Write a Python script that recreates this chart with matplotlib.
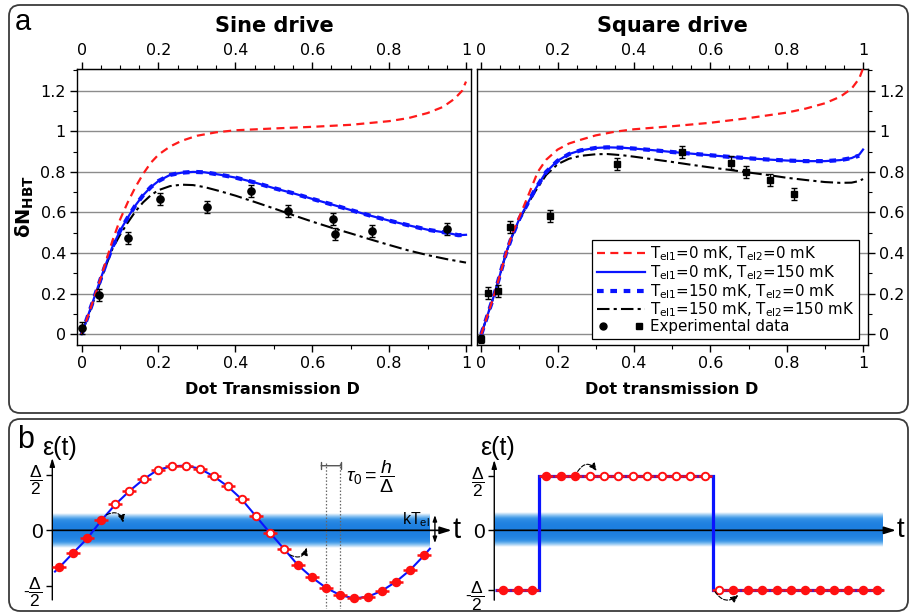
import numpy as np
import matplotlib
matplotlib.use("Agg")
import matplotlib.pyplot as plt
from matplotlib.ticker import MultipleLocator
from matplotlib.patches import FancyBboxPatch
from matplotlib.lines import Line2D
from matplotlib.legend_handler import HandlerTuple
from matplotlib.colors import LinearSegmentedColormap

plt.rcParams['font.family'] = ['DejaVu Sans']
plt.rcParams['mathtext.fontset'] = 'dejavusans'
plt.rcParams['mathtext.rm'] = 'Liberation Sans'
plt.rcParams['mathtext.it'] = 'Liberation Sans:italic'
plt.rcParams['mathtext.bf'] = 'Liberation Sans:bold'

# ---------------- data : panel a ----------------
x_ticks = [0, 0.2, 0.4, 0.6, 0.8, 1.0]
x_ticklabels = ['0', '0.2', '0.4', '0.6', '0.8', '1']
y_ticks = [0, 0.2, 0.4, 0.6, 0.8, 1.0, 1.2]
y_ticklabels = ['0', '0.2', '0.4', '0.6', '0.8', '1', '1.2']

# Sine drive
sine_red_x = [0, 0.02, 0.04, 0.06, 0.08, 0.1, 0.12, 0.14, 0.16, 0.18, 0.2, 0.23, 0.26, 0.3, 0.35, 0.4,
              0.5, 0.6, 0.7, 0.8, 0.85, 0.9, 0.94, 0.97, 0.99, 1.0]
sine_red_y = [0, 0.11, 0.22, 0.34, 0.46, 0.565, 0.65, 0.725, 0.79, 0.845, 0.885, 0.925, 0.953, 0.978,
              0.995, 1.005, 1.014, 1.022, 1.032, 1.05, 1.065, 1.09, 1.12, 1.16, 1.2, 1.245]
sine_blue_x = [0, 0.02, 0.04, 0.06, 0.08, 0.1, 0.12, 0.14, 0.16, 0.18, 0.2, 0.23, 0.26, 0.29, 0.32,
               0.36, 0.4, 0.45, 0.5, 0.55, 0.6, 0.65, 0.7, 0.75, 0.8, 0.85, 0.9, 0.95, 0.98, 1.0]
sine_blue_y = [0, 0.11, 0.22, 0.33, 0.43, 0.51, 0.575, 0.635, 0.685, 0.725, 0.755, 0.785, 0.796, 0.8,
               0.798, 0.786, 0.772, 0.748, 0.72, 0.695, 0.667, 0.64, 0.612, 0.585, 0.56, 0.537, 0.515,
               0.5, 0.488, 0.49]
sine_bluedash_x = [0, 0.02, 0.04, 0.06, 0.08, 0.1, 0.12, 0.14, 0.16, 0.18, 0.2, 0.23, 0.26, 0.29, 0.32,
                   0.36, 0.4, 0.45, 0.5, 0.55, 0.6, 0.65, 0.7, 0.75, 0.8, 0.85, 0.9, 0.95, 0.98, 1.0]
sine_bluedash_y = [0, 0.11, 0.22, 0.33, 0.43, 0.51, 0.575, 0.635, 0.685, 0.725, 0.755, 0.785, 0.796, 0.8,
                   0.798, 0.786, 0.772, 0.748, 0.72, 0.695, 0.667, 0.64, 0.612, 0.585, 0.56, 0.537, 0.515,
                   0.5, 0.488, 0.49]
sine_black_x = [0, 0.02, 0.04, 0.06, 0.08, 0.1, 0.12, 0.14, 0.16, 0.18, 0.2, 0.23, 0.26, 0.29, 0.32,
                0.36, 0.4, 0.45, 0.5, 0.55, 0.6, 0.65, 0.7, 0.75, 0.8, 0.85, 0.9, 0.95, 1.0]
sine_black_y = [0, 0.105, 0.21, 0.32, 0.42, 0.49, 0.55, 0.605, 0.65, 0.685, 0.71, 0.73, 0.737, 0.735,
                0.725, 0.705, 0.683, 0.652, 0.62, 0.587, 0.555, 0.525, 0.497, 0.468, 0.44, 0.413, 0.39,
                0.37, 0.353]
sine_exp_x = [0.0, 0.045, 0.12, 0.203, 0.325, 0.44, 0.537, 0.653, 0.659, 0.755, 0.95]
sine_exp_y = [0.03, 0.195, 0.476, 0.668, 0.628, 0.706, 0.607, 0.568, 0.494, 0.509, 0.519]
sine_exp_err = [0.03, 0.03, 0.03, 0.03, 0.03, 0.03, 0.03, 0.03, 0.03, 0.03, 0.03]

# Square drive
sq_red_x = [0, 0.02, 0.035, 0.05, 0.065, 0.08, 0.1, 0.12, 0.148, 0.17, 0.2, 0.23, 0.26, 0.3, 0.35, 0.4,
            0.5, 0.6, 0.7, 0.8, 0.85, 0.9, 0.94, 0.97, 0.99, 1.0]
sq_red_y = [0, 0.115, 0.2, 0.3, 0.4, 0.49, 0.58, 0.67, 0.8, 0.86, 0.91, 0.94, 0.958, 0.98, 0.998, 1.01,
            1.025, 1.042, 1.065, 1.092, 1.112, 1.138, 1.17, 1.21, 1.26, 1.31]
sq_blue_x = [0, 0.02, 0.035, 0.05, 0.065, 0.08, 0.1, 0.12, 0.14, 0.17, 0.2, 0.23, 0.26, 0.3, 0.33, 0.37,
             0.4, 0.45, 0.5, 0.55, 0.6, 0.65, 0.7, 0.75, 0.8, 0.85, 0.9, 0.94, 0.97, 0.99, 1.0]
sq_blue_y = [0, 0.115, 0.2, 0.3, 0.4, 0.48, 0.57, 0.64, 0.71, 0.8, 0.855, 0.888, 0.906, 0.918, 0.921,
             0.919, 0.915, 0.907, 0.898, 0.89, 0.882, 0.874, 0.867, 0.861, 0.856, 0.853, 0.853, 0.858,
             0.868, 0.885, 0.91]
sq_bluedash_x = [0, 0.02, 0.035, 0.05, 0.065, 0.08, 0.1, 0.12, 0.14, 0.17, 0.2, 0.23, 0.26, 0.3, 0.33, 0.37,
                 0.4, 0.45, 0.5, 0.55, 0.6, 0.65, 0.7, 0.75, 0.8, 0.85, 0.9, 0.94, 0.97, 0.99]
sq_bluedash_y = [0, 0.115, 0.2, 0.3, 0.4, 0.48, 0.57, 0.64, 0.71, 0.8, 0.855, 0.888, 0.906, 0.918, 0.921,
                 0.919, 0.915, 0.907, 0.898, 0.89, 0.882, 0.874, 0.867, 0.861, 0.856, 0.853, 0.853, 0.858,
                 0.868, 0.88]
sq_black_x = [0, 0.02, 0.035, 0.05, 0.065, 0.08, 0.1, 0.12, 0.14, 0.17, 0.2, 0.23, 0.26, 0.3, 0.33, 0.37,
              0.4, 0.45, 0.5, 0.55, 0.6, 0.65, 0.7, 0.75, 0.8, 0.85, 0.9, 0.94, 0.97, 0.99, 1.0]
sq_black_y = [0, 0.115, 0.2, 0.3, 0.4, 0.48, 0.565, 0.635, 0.7, 0.785, 0.838, 0.865, 0.879, 0.887, 0.888,
              0.882, 0.875, 0.862, 0.849, 0.835, 0.822, 0.81, 0.797, 0.785, 0.771, 0.76, 0.75, 0.746,
              0.747, 0.755, 0.765]
sq_exp_x = [0.0, 0.017, 0.045, 0.076, 0.181, 0.355, 0.525, 0.655, 0.694, 0.755, 0.818]
sq_exp_y = [-0.023, 0.205, 0.213, 0.53, 0.584, 0.837, 0.9, 0.846, 0.801, 0.76, 0.691]
sq_exp_err = [0.02, 0.03, 0.03, 0.03, 0.03, 0.03, 0.03, 0.03, 0.03, 0.03, 0.03]

legend_labels = [r'T$_{\mathrm{el1}}$=0 mK, T$_{\mathrm{el2}}$=0 mK',
                 r'T$_{\mathrm{el1}}$=0 mK, T$_{\mathrm{el2}}$=150 mK',
                 r'T$_{\mathrm{el1}}$=150 mK, T$_{\mathrm{el2}}$=0 mK',
                 r'T$_{\mathrm{el1}}$=150 mK, T$_{\mathrm{el2}}$=150 mK',
                 'Experimental data']

# ---------------- data : panel b ----------------
sine_k = list(range(27))
sine_eps = [-0.665, -0.401, -0.144, 0.18, 0.467, 0.707, 0.916, 1.084, 1.150, 1.162, 1.108, 0.970,
            0.790, 0.557, 0.257, -0.042, -0.329, -0.623, -0.844, -1.030, -1.162, -1.222, -1.192,
            -1.084, -0.922, -0.713, -0.449]
sine_filled = [1, 1, 1, 1, 0, 0, 0, 0, 0, 0, 0, 0, 0, 0, 0, 0, 0, 1, 1, 1, 1, 1, 1, 1, 1, 1, 1]
sine_curve_k = [-0.31] + sine_k + [26.41]
sine_curve_eps = [-0.74] + sine_eps + [-0.33]
sine_levels = [-1.0, 0.0, 1.0]

sq_k = list(range(27))
sq_eps = [-1.09, -1.09, -1.09, 0.98, 0.98, 0.98, 0.98, 0.98, 0.98, 0.98, 0.98, 0.98, 0.98, 0.98,
          0.98, -1.09, -1.09, -1.09, -1.09, -1.09, -1.09, -1.09, -1.09, -1.09, -1.09, -1.09, -1.09]
sq_filled = [1, 1, 1, 1, 1, 1, 0, 0, 0, 0, 0, 0, 0, 0, 0, 0, 1, 1, 1, 1, 1, 1, 1, 1, 1, 1, 1]
sq_wave_edges = [-0.58, 2.5, 14.6, 26.4]
sq_wave_levels = [-1.09, 0.98, -1.09]
sq_levels = [-1.09, 0.0, 0.98]
level_labels = [r'-$\dfrac{\Delta}{2}$', '0', r'$\dfrac{\Delta}{2}$']

# ---------------- figure ----------------
W, H = 910, 612
fig = plt.figure(figsize=(W / 100, H / 100), dpi=100)


def px_axes(x0, y0, x1, y1):
    return fig.add_axes([x0 / W, 1 - y1 / H, (x1 - x0) / W, (y1 - y0) / H])


# panel frames
for (x0, y0, x1, y1) in [(9, 5, 908, 413), (9, 419, 908, 611)]:
    fig.add_artist(FancyBboxPatch((x0 / 100, (H - y1) / 100), (x1 - x0) / 100, (y1 - y0) / 100,
                                  boxstyle='round,pad=0,rounding_size=0.11',
                                  transform=fig.dpi_scale_trans, fill=False,
                                  ec='#3a3a3a', lw=1.3))

axL = px_axes(77, 69, 471, 345)
axR = px_axes(476.7, 69, 868, 345)

red_style = dict(color='#ff1a1a', lw=1.6, ls=(0, (3.6, 2.4)), zorder=6)
blue_style = dict(color='#0a14ff', lw=1.6, ls='-', zorder=4)
bluedash_style = dict(color='#0a14ff', lw=3.0, ls=(0, (1.6, 1.6)), zorder=5)
black_style = dict(color='black', lw=1.5, ls=(0, (6, 2, 1.5, 2)), zorder=3)

for ax, data, exp_marker in [
        (axL, (sine_red_x, sine_red_y, sine_blue_x, sine_blue_y, sine_bluedash_x, sine_bluedash_y,
               sine_black_x, sine_black_y, sine_exp_x, sine_exp_y, sine_exp_err), 'o'),
        (axR, (sq_red_x, sq_red_y, sq_blue_x, sq_blue_y, sq_bluedash_x, sq_bluedash_y,
               sq_black_x, sq_black_y, sq_exp_x, sq_exp_y, sq_exp_err), 's')]:
    (rx, ry, bx, by, bdx, bdy, kx, ky, ex, ey, ee) = data
    ax.plot(kx, ky, **black_style)
    ax.plot(bx, by, **blue_style)
    ax.plot(bdx, bdy, **bluedash_style)
    ax.plot(rx, ry, **red_style)
    ax.errorbar(ex, ey, yerr=ee, fmt=exp_marker, color='black', ms=5.2 if exp_marker == 'o' else 4.8,
                elinewidth=1.0, capsize=2, capthick=1.0, zorder=7)
    ax.set_xlim(-0.012, 1.013)
    ax.set_ylim(-0.053, 1.307)
    ax.set_xticks(x_ticks, labels=x_ticklabels)
    ax.xaxis.set_minor_locator(MultipleLocator(0.1))
    ax.set_yticks(y_ticks, labels=y_ticklabels)
    ax.yaxis.set_minor_locator(MultipleLocator(0.1))
    ax.tick_params(axis='both', which='major', length=5, width=1, labelsize=11.5, direction='out', pad=3)
    ax.tick_params(axis='both', which='minor', length=3, width=0.8, direction='out')
    ax.tick_params(axis='x', top=False, which='both')
    ax.grid(axis='y', which='major', color='#8c8c8c', lw=1.0)
    ax.set_axisbelow(True)
    for s in ax.spines.values():
        s.set_linewidth(1.0)
    sec = ax.secondary_xaxis('top')
    sec.set_xticks(x_ticks, labels=x_ticklabels)
    sec.xaxis.set_minor_locator(MultipleLocator(0.05))
    sec.tick_params(axis='x', which='major', length=5, width=1, labelsize=11.5, direction='out', pad=3)
    sec.tick_params(axis='x', which='minor', length=3, width=0.8, direction='out')

axR.yaxis.tick_right()
axR.tick_params(axis='y', which='both', left=False, labelleft=False, right=True, labelright=True)

# titles and labels
fig.text(274 / W, 1 - 26 / H, 'Sine drive', fontsize=15, fontweight='bold', ha='center', va='center')
fig.text(672 / W, 1 - 26 / H, 'Square drive', fontsize=15, fontweight='bold', ha='center', va='center')
fig.text(272 / W, 1 - 389 / H, 'Dot Transmission D', fontsize=11.5, fontweight='bold', ha='center', va='center')
fig.text(672 / W, 1 - 389 / H, 'Dot transmission D', fontsize=11.5, fontweight='bold', ha='center', va='center')
fig.text(25 / W, 1 - 207 / H, r'δN$_{\mathbf{HBT}}$', fontsize=14, fontweight='bold', rotation=90,
         ha='center', va='center', math_fontfamily='dejavusans')
fig.text(23 / W, 1 - 22 / H, 'a', fontsize=21, family='Liberation Sans', ha='center', va='center')
fig.text(26 / W, 1 - 440 / H, 'b', fontsize=22, family='Liberation Sans', ha='center', va='center')

# legend
h_red = Line2D([], [], **red_style)
h_blue = Line2D([], [], **blue_style)
h_bdash = Line2D([], [], **bluedash_style)
h_black = Line2D([], [], **black_style)
h_circ = Line2D([], [], ls='none', marker='o', color='black', ms=5)
h_sq = Line2D([], [], ls='none', marker='s', color='black', ms=5)
leg = axR.legend([h_red, h_blue, h_bdash, h_black, (h_circ, h_sq)], legend_labels,
                 handler_map={tuple: HandlerTuple(ndivide=None, pad=1.5)},
                 loc='lower right', bbox_to_anchor=(0.977, 0.022), borderaxespad=0,
                 fontsize=10.8, fancybox=False, framealpha=1, edgecolor='black',
                 handlelength=3.2, handletextpad=0.35, labelspacing=0.0, borderpad=0.3)
leg.get_frame().set_linewidth(0.9)
leg.set_zorder(10)

# ---------------- panel b ----------------
band_cmap = LinearSegmentedColormap.from_list('band', ['#ffffff', '#c4e0f8', '#7dbcef', '#3592e6', '#1d7fe0'])
u = np.linspace(-1, 1, 101)
band = (1 - np.abs(u) ** 3.0)[:, None]


def set_map(ax, x0, x1, y0, y1, xo, xs, yo, ys):
    ax.set_xlim((x0 - xo) / xs, (x1 - xo) / xs)
    ax.set_ylim((yo - y1) / ys, (yo - y0) / ys)


def schematic_axes(ax, k_axis, levels, y_bot, y_top, k_end, band_k0, band_k1):
    ax.patch.set_visible(False)
    for s in ax.spines.values():
        s.set_visible(False)
    ax.spines['left'].set_position(('data', k_axis))
    ax.set_xticks([])
    ax.set_yticks(levels, labels=level_labels)
    ax.tick_params(axis='y', length=4, width=1, pad=3, direction='out')
    for i, lbl in enumerate(ax.get_yticklabels()):
        lbl.set_fontfamily('Liberation Sans')
        lbl.set_math_fontfamily('custom')
        lbl.set_fontsize(15 if i == 1 else 12.5)
    ax.imshow(band, extent=(band_k0, band_k1, -0.31, 0.31), aspect='auto', cmap=band_cmap,
              vmin=0, vmax=1, origin='lower', zorder=1, interpolation='bilinear')
    ax.annotate('', xy=(k_axis, y_top), xytext=(k_axis, y_bot),
                arrowprops=dict(arrowstyle='-|>,head_length=0.5,head_width=0.15', color='black', lw=1.0,
                                shrinkA=0, shrinkB=0), zorder=2)
    ax.annotate('', xy=(k_end, 0), xytext=(k_axis, 0),
                arrowprops=dict(arrowstyle='-|>,head_length=0.7,head_width=0.22', color='black', lw=1.2,
                                shrinkA=0, shrinkB=0), zorder=2)


def draw_markers(ax, ks, eps, filled):
    ax.plot(ks, eps, ls='none', marker='_', ms=10, mew=1.8, color='#ff1010', zorder=5)
    for k, e, f in zip(ks, eps, filled):
        ax.plot([k], [e], ls='none', marker='o', ms=5.4, mew=1.4, mec='#ff1010',
                mfc='#ff1010' if f else 'white', zorder=6)


def curved(ax, start, end, rad):
    ax.annotate('', xy=end, xytext=start,
                arrowprops=dict(arrowstyle='-|>,head_length=0.45,head_width=0.2', color='black', lw=0.8,
                                ls='--', connectionstyle=f'arc3,rad={rad}', shrinkA=0, shrinkB=0),
                zorder=7)


# sine schematic
axS = px_axes(12, 421, 458, 609)
schematic_axes(axS, -0.5, sine_levels, -1.25, 1.30, 27.96, -0.5, 26.41)
axS.plot(sine_curve_k, sine_curve_eps, color='#0a14ff', lw=1.5, zorder=4)
draw_markers(axS, sine_k, sine_eps, sine_filled)
for kk in (19, 20):
    axS.plot([kk, kk], [1.2, -1.6], color='#666666', lw=0.9, ls=(0, (1.2, 1.5)), zorder=3)
axS.annotate('', xy=(20.05, 1.16), xytext=(18.66, 1.16),
             arrowprops=dict(arrowstyle='|-|,widthA=0.25,widthB=0.25', color='#555555', lw=1.0,
                             shrinkA=0, shrinkB=0))
axS.text(20.4, 0.96, r'$\tau_0 = \dfrac{h}{\Delta}$', fontsize=14, ha='left', va='center',
         family='Liberation Sans', math_fontfamily='custom')
axS.text(26.45, 0.2, r'kT$_{\mathrm{el}}$', fontsize=11.5, ha='right', va='center',
         family='Liberation Sans', math_fontfamily='custom', zorder=8)
axS.annotate('', xy=(26.77, 0.275), xytext=(26.77, -0.23),
             arrowprops=dict(arrowstyle='<|-|>,head_length=0.35,head_width=0.12', color='black', lw=1.0,
                             shrinkA=0, shrinkB=0), zorder=8)
axS.text(0.0, 1.48, 'ε(t)', fontsize=18, ha='center', va='center', family='Liberation Sans')
axS.text(28.0, 0.0, 't', fontsize=21, ha='left', va='center', family='Liberation Sans')
curved(axS, (3.37, 0.28), (4.56, 0.14), -0.6)
curved(axS, (16.44, -0.44), (17.63, -0.31), 0.6)
set_map(axS, 12, 458, 421, 609, 59.33, 14.03, 530.33, 55.7)

# square schematic
axQ = px_axes(460, 421, 910, 609)
schematic_axes(axQ, -0.63, sq_levels, -1.27, 1.28, 27.3, -0.63, 26.37)
axQ.stairs(sq_wave_levels, sq_wave_edges, baseline=None, color='#0a14ff', lw=2.3, zorder=4)
draw_markers(axQ, sq_k, sq_eps, sq_filled)
axQ.text(-0.42, 1.49, 'ε(t)', fontsize=18, ha='center', va='center', family='Liberation Sans')
axQ.text(27.35, 0.0, 't', fontsize=20, ha='left', va='center', family='Liberation Sans')
curved(axQ, (5.17, 1.07), (6.49, 1.08), -0.7)
curved(axQ, (14.72, -1.115), (16.34, -1.176), 0.55)
set_map(axQ, 460, 910, 421, 609, 503.33, 14.38, 530.33, 55.0)

fig.savefig('out.png', dpi=100)
